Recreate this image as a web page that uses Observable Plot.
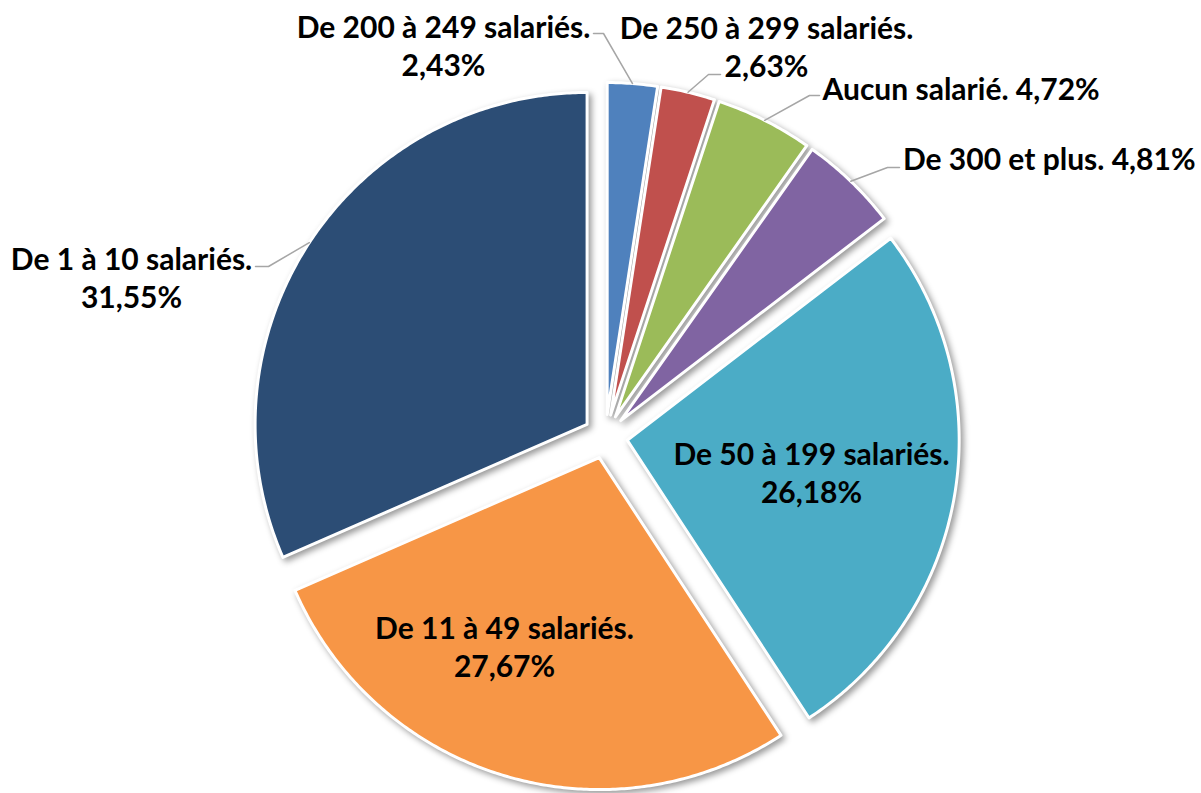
<!DOCTYPE html>
<html><head><meta charset="utf-8">
<script src="https://cdn.jsdelivr.net/npm/d3@7"></script>
<script src="https://cdn.jsdelivr.net/npm/@observablehq/plot@0.6"></script>
<style>body{margin:0;background:#fff;}</style>
</head><body><div id="chart"></div>
<script>
// ---- data ----
const categories = ["De 200 à 249 salariés.", "De 250 à 299 salariés.", "Aucun salarié.", "De 300 et plus.", "De 50 à 199 salariés.", "De 11 à 49 salariés.", "De 1 à 10 salariés."];
const values = [2.43, 2.63, 4.72, 4.81, 26.18, 27.67, 31.55];
const colors = ["#4F81BD", "#C0504D", "#9BBB59", "#8064A2", "#4BACC6", "#F79646", "#2C4D75"];
const pctLabels = values.map(v => v.toFixed(2).replace(".", ",") + "%");

// ---- layout ----
const W = 1201, H = 793, CX = 605, CY = 436, R = 332, EXPLODE = 22;
// label placement: block position, alignment, line break, and leader elbow (label end, elbow)
const labelLayout = [
  {x: 443, y: 44, anchor: "middle", sep: "\n", leader: [[593, 33], [603, 33]]},
  {x: 766, y: 45, anchor: "middle", sep: "\n", leader: [[720, 74], [708, 74]]},
  {x: 822, y: 87, anchor: "start", sep: " ", leader: [[819, 95], [809, 95]]},
  {x: 1195, y: 157, anchor: "end", sep: " ", leader: [[899, 167], [887, 167]]},
  {x: 811, y: 471, anchor: "middle", sep: "\n", leader: null},
  {x: 504, y: 645, anchor: "middle", sep: "\n", leader: null},
  {x: 131, y: 276, anchor: "middle", sep: "\n", leader: [[255, 266], [268, 266]]}
];

const total = d3.sum(values);
let cum = 0;
const slicePts = [];
const arcMid = [];
categories.forEach((name, i) => {
  const a0 = cum / total * 2 * Math.PI;
  cum += values[i];
  const a1 = cum / total * 2 * Math.PI;
  const mid = (a0 + a1) / 2;
  const ox = CX + EXPLODE * Math.sin(mid), oy = CY - EXPLODE * Math.cos(mid);
  slicePts.push({name, x: ox, y: oy});
  const n = Math.max(2, Math.ceil((a1 - a0) / (Math.PI / 360)));
  for (let k = 0; k <= n; k++) {
    const a = a0 + (a1 - a0) * k / n;
    slicePts.push({name, x: ox + R * Math.sin(a), y: oy - R * Math.cos(a)});
  }
  arcMid.push([ox + R * Math.sin(mid), oy - R * Math.cos(mid)]);
});

const labels = categories.map((c, i) => ({
  text: c + labelLayout[i].sep + pctLabels[i],
  x: labelLayout[i].x, y: labelLayout[i].y, anchor: labelLayout[i].anchor
}));

const leaderPts = [];
categories.forEach((c, i) => {
  const L = labelLayout[i].leader;
  if (!L) return;
  leaderPts.push({name: c, x: L[0][0], y: L[0][1]});
  leaderPts.push({name: c, x: L[1][0], y: L[1][1]});
  leaderPts.push({name: c, x: arcMid[i][0], y: arcMid[i][1]});
});

const textOpts = {x: "x", y: "y", text: "text", fontSize: 30, fontWeight: "bold", fontFamily: "Lato, 'Open Sans', sans-serif", fill: "#000", lineHeight: 1.28};

const chart = Plot.plot({
  width: W, height: H,
  margin: 0,
  x: {domain: [0, W], range: [0, W], axis: null},
  y: {domain: [0, H], range: [0, H], axis: null},
  color: {domain: categories, range: colors},
  style: {background: "#fff"},
  marks: [
    Plot.line(slicePts, {x: "x", y: "y", z: "name", fill: "name", stroke: "white", strokeWidth: 3, curve: "linear-closed", strokeLinejoin: "round"}),
    Plot.line(leaderPts, {x: "x", y: "y", z: "name", stroke: "#A6A6A6", strokeWidth: 1.5}),
    ...["middle", "start", "end"].map(a => Plot.text(labels.filter(d => d.anchor === a), {...textOpts, textAnchor: a}))
  ]
});
const g = chart.querySelector('g[aria-label="line"]');
if (g) g.style.filter = "drop-shadow(3px 3px 3px rgba(0,0,0,0.4))";
document.getElementById("chart").appendChild(chart);
</script>
</body></html>
